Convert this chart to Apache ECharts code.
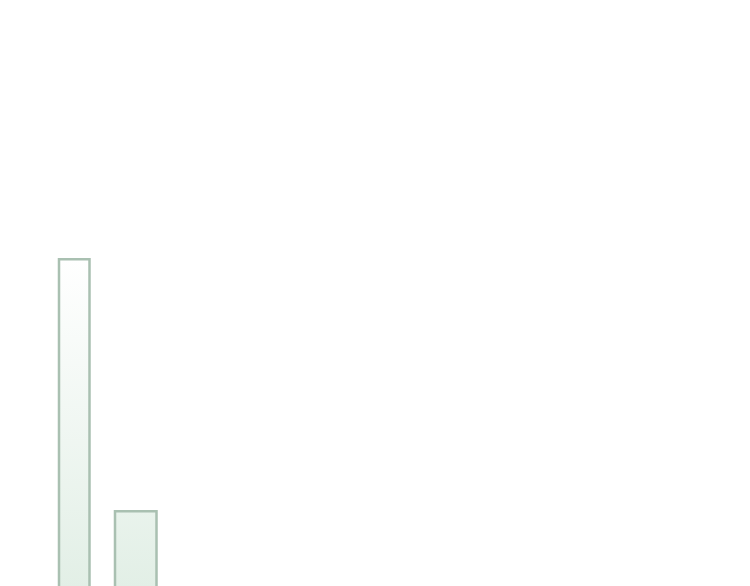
<!DOCTYPE html>
<html>
<head>
<meta charset="utf-8">
<script src="https://cdn.jsdelivr.net/npm/echarts@6/dist/echarts.min.js"></script>
<style>html,body{margin:0;padding:0;background:#fff;overflow:hidden;}#c{width:750px;height:700px;}</style>
</head>
<body>
<div id="c"></div>
<script>
var categories = ['A', 'B'];
var seriesA = [63.14, null];
var seriesB = [null, 27.14];

var chart = echarts.init(document.getElementById('c'), null, {renderer: 'canvas'});
var fill = new echarts.graphic.LinearGradient(0, 0, 0, 700, [
  {offset: 0.37, color: '#ffffff'},
  {offset: 0.84, color: '#e2efe6'},
  {offset: 1, color: '#dcebe1'}
], true);
var hiddenCat = {type: 'category', data: categories, show: false, boundaryGap: true};
chart.setOption({
  animation: false,
  backgroundColor: '#ffffff',
  grid: {left: 43.5, right: 583.5, top: 0, bottom: 0, containLabel: false},
  xAxis: [Object.assign({}, hiddenCat), Object.assign({}, hiddenCat)],
  yAxis: {type: 'value', min: 0, max: 100, show: false},
  series: [
    {type: 'bar', xAxisIndex: 0, data: seriesA, barWidth: 33,
     itemStyle: {color: fill, borderColor: '#a9c0b1', borderWidth: 2.5}},
    {type: 'bar', xAxisIndex: 1, data: seriesB, barWidth: 44,
     itemStyle: {color: fill, borderColor: '#a9c0b1', borderWidth: 2.5}}
  ]
});
</script>
</body>
</html>
